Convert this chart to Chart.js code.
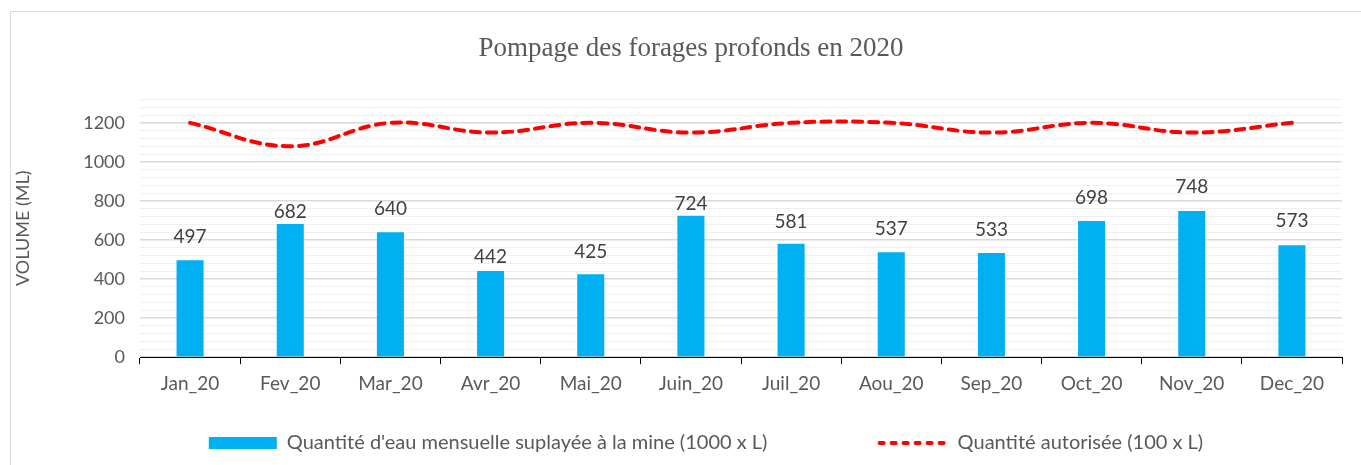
<!DOCTYPE html>
<html>
<head>
<meta charset="utf-8">
<script src="https://cdn.jsdelivr.net/npm/chart.js@4"></script>
<style>
  html, body { margin: 0; padding: 0; background: #fff; overflow: hidden; }
  #wrap { position: relative; width: 1361px; height: 465px; }
  #frame { position: absolute; left: 10px; top: 11px; width: 1400px; height: 500px; border: 1px solid #d9d9d9; box-sizing: border-box; }
  #chart { position: absolute; left: 0; top: 0; }
</style>
</head>
<body>
<div id="wrap">
  <div id="frame"></div>
  <canvas id="chart" width="1361" height="465"></canvas>
</div>
<script>
const months = ['Jan_20', 'Fev_20', 'Mar_20', 'Avr_20', 'Mai_20', 'Juin_20', 'Juil_20', 'Aou_20', 'Sep_20', 'Oct_20', 'Nov_20', 'Dec_20'];
const pumped = [497, 682, 640, 442, 425, 724, 581, 537, 533, 698, 748, 573];
const authorised = [1200, 1080, 1200, 1150, 1200, 1150, 1200, 1200, 1150, 1200, 1150, 1200];
const yLabels = [0, 200, 400, 600, 800, 1000, 1200];

const grey = '#595959';
const sans = 'Lato';

// value labels above the bars (some were nudged by hand in the original)
const labelLift = [23, 12, 23, 14, 22, 12, 22, 23, 23, 23, 24, 24];
const barLabels = {
  id: 'barLabels',
  afterDatasetsDraw(chart) {
    const ctx = chart.ctx;
    const meta = chart.getDatasetMeta(0);
    ctx.save();
    ctx.font = '19px ' + sans;
    ctx.fillStyle = '#404040';
    ctx.textAlign = 'center';
    ctx.textBaseline = 'middle';
    meta.data.forEach((bar, i) => {
      ctx.fillText(pumped[i], bar.x, bar.y - labelLift[i]);
    });
    ctx.restore();
  }
};

// title and legend sit a little right of centre in the original
const boxShift = {
  id: 'boxShift',
  afterLayout(chart) {
    chart.legend.left += 70;
    chart.titleBlock.left += 40;
  }
};

new Chart(document.getElementById('chart'), {
  data: {
    labels: months,
    datasets: [{
      type: 'bar',
      label: "Quantité d'eau mensuelle suplayée à la mine (1000 x L)" + '\u2003'.repeat(6) + '  ',
      data: pumped,
      backgroundColor: '#00B0F0',
      barPercentage: 0.27,
      categoryPercentage: 1,
      pointStyle: 'rect'
    }, {
      type: 'line',
      label: 'Quantité autorisée (100 x L)',
      data: authorised,
      borderColor: '#FF0000',
      backgroundColor: '#FF0000',
      borderWidth: 4,
      borderDash: [9, 7],
      borderCapStyle: 'round',
      tension: 0.4,
      pointRadius: 0,
      pointStyle: 'line'
    }]
  },
  options: {
    responsive: false,
    devicePixelRatio: 1,
    animation: false,
    layout: { padding: { left: 0, right: 19, top: 0, bottom: 2 } },
    plugins: {
      tooltip: { enabled: false },
      title: {
        display: true,
        text: 'Pompage des forages profonds en 2020',
        color: grey,
        font: { family: 'Liberation Serif', size: 27, weight: 'normal' },
        padding: { top: 33, bottom: 34 }
      },
      legend: {
        position: 'bottom',
        labels: {
          usePointStyle: true,
          pointStyleWidth: 68,
          boxHeight: 12,
          color: grey,
          font: { family: sans, size: 20 },
          padding: 12,
          generateLabels(chart) {
            const items = Chart.defaults.plugins.legend.labels.generateLabels(chart);
            items[1].lineDash = [4, 8];
            items[1].lineCap = 'round';
            items[1].lineWidth = 4;
            items[1].strokeStyle = '#FF0000';
            return items;
          }
        }
      }
    },
    scales: {
      x: {
        afterFit(scale) { scale.height += 18; },
        grid: { display: true, drawOnChartArea: false, drawTicks: true, tickLength: 7, color: '#000', offset: true },
        border: { display: true, color: '#000', width: 1 },
        ticks: { color: grey, font: { family: sans, size: 19 }, padding: 8, maxRotation: 0 }
      },
      y: {
        min: 0,
        max: 1320,
        afterFit(scale) { scale.width = 140; },
        title: { display: true, text: 'VOLUME (ML)', color: grey, font: { family: sans, size: 18 }, padding: { top: 12, bottom: 0 } },
        border: { display: false },
        grid: {
          drawTicks: false,
          color: c => yLabels.includes(c.tick.value) ? '#d9d9d9' : '#f0f0f0',
          lineWidth: c => yLabels.includes(c.tick.value) ? 1.5 : 1
        },
        ticks: {
          stepSize: 40,
          autoSkip: false,
          padding: 15,
          color: grey,
          font: { family: sans, size: 18 },
          callback: v => yLabels.includes(v) ? v : ''
        }
      }
    }
  },
  plugins: [barLabels, boxShift]
});
</script>
</body>
</html>
